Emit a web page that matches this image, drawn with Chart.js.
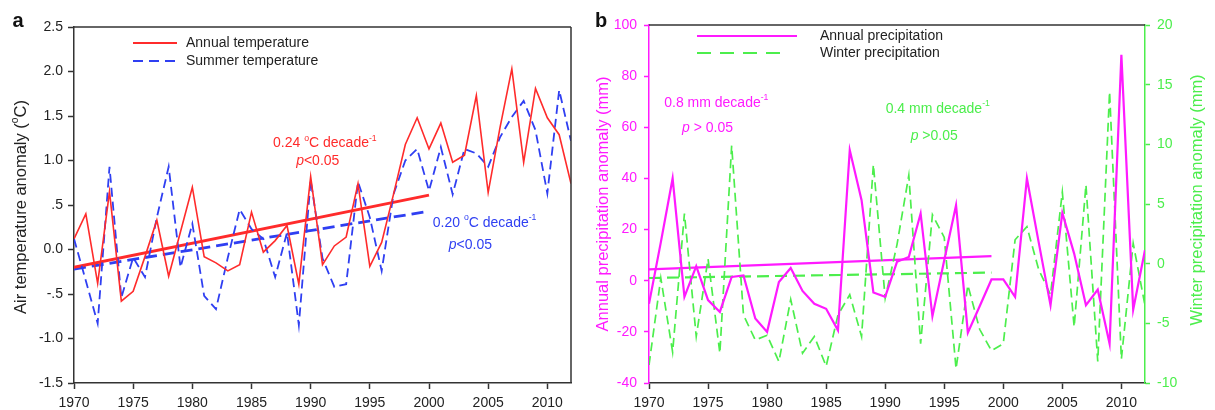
<!DOCTYPE html>
<html>
<head>
<meta charset="utf-8">
<script src="https://cdn.jsdelivr.net/npm/chart.js@4.4.0/dist/chart.umd.min.js"></script>
<style>
  body { margin: 0; background: #fff; }
  #wrapA { position: absolute; left: 0; top: 0; width: 590px; height: 410px; }
  #wrapB { position: absolute; left: 590px; top: 0; width: 625px; height: 410px; }
</style>
</head>
<body>
<div id="wrapA"><canvas id="chartA"></canvas></div>
<div id="wrapB"><canvas id="chartB"></canvas></div>
<script>
// ---- data ----
const years = [1970,1971,1972,1973,1974,1975,1976,1977,1978,1979,
               1980,1981,1982,1983,1984,1985,1986,1987,1988,1989,
               1990,1991,1992,1993,1994,1995,1996,1997,1998,1999,
               2000,2001,2002,2003,2004,2005,2006,2007,2008,2009,
               2010,2011,2012];

const annualTemp = [0.12,0.40,-0.38,0.65,-0.58,-0.47,-0.08,0.33,-0.30,0.20,
                    0.70,-0.08,-0.15,-0.24,-0.17,0.42,-0.03,0.10,0.27,-0.39,
                    0.82,-0.17,0.04,0.14,0.74,-0.19,0.08,0.62,1.18,1.48,
                    1.13,1.42,0.98,1.06,1.73,0.64,1.37,2.03,0.98,1.81,
                    1.48,1.29,0.74];
const summerTemp = [0.12,-0.35,-0.83,0.93,-0.54,-0.09,-0.31,0.36,0.93,-0.20,
                    0.29,-0.52,-0.67,-0.09,0.45,0.23,0.12,-0.31,0.19,-0.85,
                    0.78,-0.10,-0.42,-0.39,0.76,0.36,-0.24,0.62,1.00,1.13,
                    0.66,1.15,0.62,1.13,1.08,0.93,1.26,1.49,1.67,1.34,
                    0.63,1.79,1.22];
const tempTrendYears = [1970, 2000];
const annualTempTrend = [-0.20, 0.61];
const summerTempTrend = [-0.22, 0.43];

const annualPrecip = [-9,15,40,-6.3,5.7,-7.6,-12.2,1.5,2.1,-14.8,
                      -20,-0.5,5,-4,-9,-11,-19.4,51.1,31.5,-4.6,
                      -6.3,7.4,9.3,26.3,-13.9,8,29.5,-20.3,-10,0.5,
                      0.5,-6.3,40,15,-9.6,26.5,10.6,-9.6,-3.5,-24.6,
                      88.3,-11.3,12];
const winterPrecip = [-8.5,-1.2,-7.4,4.2,-6.1,0.4,-7.5,9.9,-4.3,-6.4,
                      -6.0,-8.2,-3.0,-7.5,-6.1,-8.6,-4.3,-2.6,-6.1,8.3,
                      -2.9,1.6,7.4,-6.7,4.1,2.2,-8.8,-1.8,-5.5,-7.3,
                      -6.7,2.0,3.1,-0.5,-2.6,6.0,-5.3,6.6,-8.2,14.4,
                      -8.0,1.7,-3.5];
const precipTrendYears = [1970, 1999];
const annualPrecipTrend = [4.4, 9.6];
const winterPrecipTrend = [-1.2, -0.75];

const yearTicks = [1970,1975,1980,1985,1990,1995,2000,2005,2010];
const tempTicks = [-1.5,-1,-0.5,0,0.5,1,1.5,2,2.5];
const tempTickLabels = ["-1.5","-1.0","-.5","0.0",".5","1.0","1.5","2.0","2.5"];
const annualPrecipTicks = [-40,-20,0,20,40,60,80,100];
const winterPrecipTicks = [-10,-5,0,5,10,15,20];

// ---- look ----
const FAM = "'Liberation Sans', Arial, Helvetica, sans-serif";
const RED = "#ff2b2b", BLUE = "#2f3ff2", MAG = "#ff1aff", GREEN = "#4cee4c";
const AXIS = "#333";

function pts(xs, ys) {
  return xs.map((x, i) => ({x: x, y: ys[i]}));
}

// text made of pieces: [text, ""|"i"|"s"]  (i = italic, s = superscript)
function richText(ctx, parts, x, y, color, size, bold) {
  const font = st => {
    if (st === "s") return (size * 0.62).toFixed(1) + "px " + FAM;
    if (st === "i") return "italic " + size + "px " + FAM;
    return (bold ? "bold " : "") + size + "px " + FAM;
  };
  let w = 0;
  parts.forEach(p => { ctx.font = font(p[1]); w += ctx.measureText(p[0]).width; });
  let cx = x - w / 2;
  ctx.fillStyle = color;
  ctx.textAlign = "left";
  ctx.textBaseline = "middle";
  parts.forEach(p => {
    ctx.font = font(p[1]);
    ctx.fillText(p[0], cx, p[1] === "s" ? y - size * 0.38 : y);
    cx += ctx.measureText(p[0]).width;
  });
}

const decor = {
  id: "decor",
  afterDraw(chart, args, o) {
    const ctx = chart.ctx, a = chart.chartArea;
    ctx.save();
    // box sides not covered by an axis
    (o.frame || []).forEach(f => {
      ctx.strokeStyle = f.color;
      ctx.lineWidth = 1.5;
      ctx.beginPath();
      if (f.side === "top") { ctx.moveTo(a.left, a.top); ctx.lineTo(a.right, a.top); }
      if (f.side === "right") { ctx.moveTo(a.right, a.top); ctx.lineTo(a.right, a.bottom); }
      ctx.stroke();
    });
    // legend
    (o.legend || []).forEach(l => {
      ctx.strokeStyle = l.color;
      ctx.lineWidth = l.width;
      ctx.setLineDash(l.dash || []);
      ctx.beginPath();
      ctx.moveTo(l.x1, l.y);
      ctx.lineTo(l.x2, l.y);
      ctx.stroke();
      ctx.setLineDash([]);
      ctx.font = "14px " + FAM;
      ctx.fillStyle = "#222";
      ctx.textAlign = "left";
      ctx.textBaseline = "middle";
      ctx.fillText(l.label, l.tx, l.y);
    });
    // trend notes, placed in data units
    (o.notes || []).forEach(n => {
      const x = chart.scales.x.getPixelForValue(n.x);
      const y = chart.scales[n.axis].getPixelForValue(n.y);
      richText(ctx, n.parts, x, y, n.color, 14);
    });
    // rotated axis titles
    (o.titles || []).forEach(t => {
      ctx.save();
      ctx.translate(t.x, t.y);
      ctx.rotate(-Math.PI / 2);
      richText(ctx, t.parts, 0, 0, t.color, 16.5);
      ctx.restore();
    });
    if (o.panel) richText(ctx, [[o.panel.text, ""]], o.panel.x, o.panel.y, "#111", 20, true);
    ctx.restore();
  }
};

function xScale() {
  return {
    type: "linear", min: 1970, max: 2012,
    grid: {drawOnChartArea: false, tickLength: 6, color: AXIS, tickWidth: 1.5},
    border: {color: AXIS, width: 1.5},
    ticks: {
      font: {size: 14, family: FAM}, color: "#222", padding: 6, maxRotation: 0,
      callback: v => String(v)
    },
    afterBuildTicks: s => { s.ticks = yearTicks.map(v => ({value: v})); },
    afterFit: s => { s.height = 27; }
  };
}

function line(label, data, color, width, dash, yAxis) {
  return {
    label: label, data: data, borderColor: color, borderWidth: width,
    borderDash: dash, pointRadius: 0, tension: 0, fill: false,
    yAxisID: yAxis || "y"
  };
}

// ---- panel a ----
new Chart(document.getElementById("chartA"), {
  type: "line",
  data: {
    datasets: [
      line("Annual temperature", pts(years, annualTemp), RED, 1.6, []),
      line("Summer temperature", pts(years, summerTemp), BLUE, 1.8, [9, 5]),
      line("Annual trend", pts(tempTrendYears, annualTempTrend), RED, 2.8, []),
      line("Summer trend", pts(tempTrendYears, summerTempTrend), BLUE, 2.8, [12, 6])
    ]
  },
  options: {
    animation: false,
    responsive: true,
    maintainAspectRatio: false,
    layout: {padding: {top: 27, right: 19, left: 0, bottom: 0}},
    scales: {
      x: xScale(),
      y: {
        min: -1.5, max: 2.5,
        grid: {drawOnChartArea: false, tickLength: 6, color: AXIS, tickWidth: 1.5},
        border: {color: AXIS, width: 1.5},
        ticks: {
          font: {size: 14, family: FAM}, color: "#222", padding: 5,
          callback: v => tempTickLabels[tempTicks.indexOf(v)]
        },
        afterBuildTicks: s => { s.ticks = tempTicks.map(v => ({value: v})); },
        afterFit: s => { s.width = 74; }
      }
    },
    plugins: {
      legend: {display: false},
      tooltip: {enabled: false},
      decor: {
        frame: [{side: "top", color: AXIS}, {side: "right", color: AXIS}],
        legend: [
          {label: "Annual temperature", color: RED, width: 1.8, x1: 133, x2: 177, y: 43, tx: 186},
          {label: "Summer temperature", color: BLUE, width: 2, dash: [10, 6], x1: 133, x2: 177, y: 61, tx: 186}
        ],
        notes: [
          {parts: [["0.24 ", ""], ["o", "s"], ["C decade", ""], ["-1", "s"]], x: 1991.2, y: 1.19, axis: "y", color: RED},
          {parts: [["p", "i"], ["<0.05", ""]], x: 1990.6, y: 0.99, axis: "y", color: RED},
          {parts: [["0.20 ", ""], ["o", "s"], ["C decade", ""], ["-1", "s"]], x: 2004.7, y: 0.30, axis: "y", color: BLUE},
          {parts: [["p", "i"], ["<0.05", ""]], x: 2003.5, y: 0.045, axis: "y", color: BLUE}
        ],
        titles: [
          {parts: [["Air temperature anomaly (", ""], ["o", "s"], ["C)", ""]], x: 21, y: 207, color: "#222"}
        ],
        panel: {text: "a", x: 18, y: 21}
      }
    }
  },
  plugins: [decor]
});

// ---- panel b ----
new Chart(document.getElementById("chartB"), {
  type: "line",
  data: {
    datasets: [
      line("Annual precipitation", pts(years, annualPrecip), MAG, 2.2, [], "y"),
      line("Winter precipitation", pts(years, winterPrecip), GREEN, 1.7, [9, 5], "y2"),
      line("Annual trend", pts(precipTrendYears, annualPrecipTrend), MAG, 2.2, [], "y"),
      line("Winter trend", pts(precipTrendYears, winterPrecipTrend), GREEN, 2.2, [12, 6], "y2")
    ]
  },
  options: {
    animation: false,
    responsive: true,
    maintainAspectRatio: false,
    layout: {padding: {top: 25, right: 0, left: 0, bottom: 0}},
    scales: {
      x: xScale(),
      y: {
        position: "left", min: -40, max: 100,
        grid: {drawOnChartArea: false, tickLength: 5, color: MAG, tickWidth: 1.5},
        border: {color: MAG, width: 1.5},
        ticks: {font: {size: 14, family: FAM}, color: MAG, padding: 7},
        afterBuildTicks: s => { s.ticks = annualPrecipTicks.map(v => ({value: v})); },
        afterFit: s => { s.width = 59; }
      },
      y2: {
        position: "right", min: -10, max: 20,
        grid: {drawOnChartArea: false, tickLength: 5, color: GREEN, tickWidth: 1.5},
        border: {color: GREEN, width: 1.5},
        ticks: {font: {size: 14, family: FAM}, color: GREEN, padding: 7},
        afterBuildTicks: s => { s.ticks = winterPrecipTicks.map(v => ({value: v})); },
        afterFit: s => { s.width = 70; }
      }
    },
    plugins: {
      legend: {display: false},
      tooltip: {enabled: false},
      decor: {
        frame: [{side: "top", color: AXIS}],
        legend: [
          {label: "Annual precipitation", color: MAG, width: 2, x1: 107, x2: 207, y: 36, tx: 230},
          {label: "Winter precipitation", color: GREEN, width: 1.8, dash: [14, 9], x1: 107, x2: 197, y: 53, tx: 230}
        ],
        notes: [
          {parts: [["0.8 mm decade", ""], ["-1", "s"]], x: 1975.7, y: 69.4, axis: "y", color: MAG},
          {parts: [["p", "i"], [" > 0.05", ""]], x: 1974.95, y: 59.8, axis: "y", color: MAG},
          {parts: [["0.4 mm decade", ""], ["-1", "s"]], x: 1994.45, y: 12.96, axis: "y2", color: GREEN},
          {parts: [["p", "i"], [" >0.05", ""]], x: 1994.15, y: 10.7, axis: "y2", color: GREEN}
        ],
        titles: [
          {parts: [["Annual precipitation anomaly (mm)", ""]], x: 13, y: 204, color: MAG},
          {parts: [["Winter precipitation anomaly (mm)", ""]], x: 607, y: 200, color: GREEN}
        ],
        panel: {text: "b", x: 11, y: 21}
      }
    }
  },
  plugins: [decor]
});
</script>
</body>
</html>
